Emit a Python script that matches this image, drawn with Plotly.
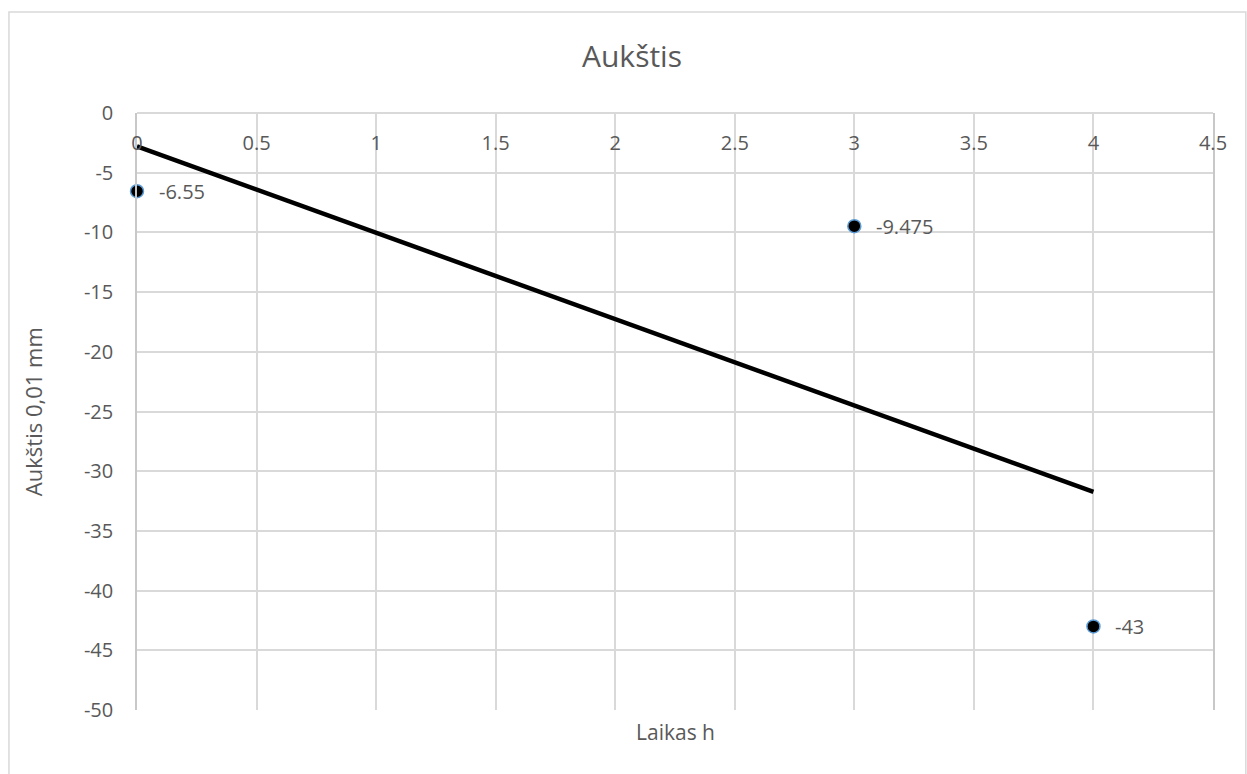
import numpy as np
import plotly.graph_objects as go

# Measured heights over time
laikas_h = [0, 3, 4]
aukstis = [-6.55, -9.475, -43]

x_ticks = [0, 0.5, 1, 1.5, 2, 2.5, 3, 3.5, 4, 4.5]
y_ticks = [0, -5, -10, -15, -20, -25, -30, -35, -40, -45, -50]

TEXT = "#595959"
GRID = "#d9d9d9"
FONT = "Open Sans"

# Least-squares linear trend over the measured range
slope, intercept = np.polyfit(laikas_h, aukstis, 1)
trend_x = [min(laikas_h), max(laikas_h)]
trend_y = [slope * x + intercept for x in trend_x]

fig = go.Figure()

fig.add_trace(go.Scatter(
    x=trend_x, y=trend_y, mode="lines",
    line=dict(color="black", width=4.5),
    hoverinfo="skip", showlegend=False, cliponaxis=False,
))

fig.add_trace(go.Scatter(
    x=laikas_h, y=aukstis, mode="markers",
    marker=dict(color="black", size=13, line=dict(color="#5b9bd5", width=1.5)),
    showlegend=False, cliponaxis=False,
))

# Value labels beside each point
for xv, yv in zip(laikas_h, aukstis):
    fig.add_annotation(
        x=xv, y=yv, text=f"{yv:g}", showarrow=False,
        xanchor="left", yanchor="middle", xshift=20,
        font=dict(family=FONT, size=20, color=TEXT),
    )

# Axis titles
fig.add_annotation(
    x=0.5, y=-0.037, xref="paper", yref="paper", text="Laikas h",
    showarrow=False, xanchor="center", yanchor="middle",
    font=dict(family=FONT, size=21, color=TEXT),
)
fig.add_annotation(
    x=-0.097, y=0.5, xref="paper", yref="paper", text="Aukštis 0,01 mm",
    showarrow=False, textangle=-90, xanchor="center", yanchor="middle",
    font=dict(family=FONT, size=22, color=TEXT),
)

# Chart frame
fig.add_shape(
    type="rect", xref="paper", yref="paper",
    x0=-0.119, x1=1.0305, y0=-0.25, y1=1.169,
    line=dict(color=GRID, width=1.5), fillcolor="rgba(0,0,0,0)", layer="below",
)

fig.update_layout(
    width=1247, height=774,
    margin=dict(l=137, r=34, t=113, b=64),
    paper_bgcolor="white", plot_bgcolor="white",
    title=dict(
        text="Aukštis", x=632 / 1247, xref="container", xanchor="center",
        y=1 - 56 / 774, yanchor="middle",
        font=dict(family=FONT, size=30, color=TEXT),
    ),
    xaxis=dict(
        range=[0, 4.5], tickvals=x_ticks, ticktext=[f"{t:g}" for t in x_ticks],
        anchor="free", position=1, side="bottom",
        showgrid=True, gridcolor=GRID, gridwidth=1.5,
        showline=True, linecolor=GRID, linewidth=1.5, mirror=True,
        zeroline=False, ticks="outside", ticklen=0, ticklabelstandoff=12,
        tickfont=dict(family=FONT, size=20, color=TEXT),
    ),
    yaxis=dict(
        range=[-50, 0], tickvals=y_ticks, ticktext=[f"{t:g}" for t in y_ticks],
        showgrid=True, gridcolor=GRID, gridwidth=1.5,
        showline=True, linecolor="#c8c8c8", linewidth=1.5, mirror=True,
        zeroline=False, ticks="outside", ticklen=0, ticklabelstandoff=18,
        tickfont=dict(family=FONT, size=20, color=TEXT),
    ),
)

fig.write_html("out.html")
